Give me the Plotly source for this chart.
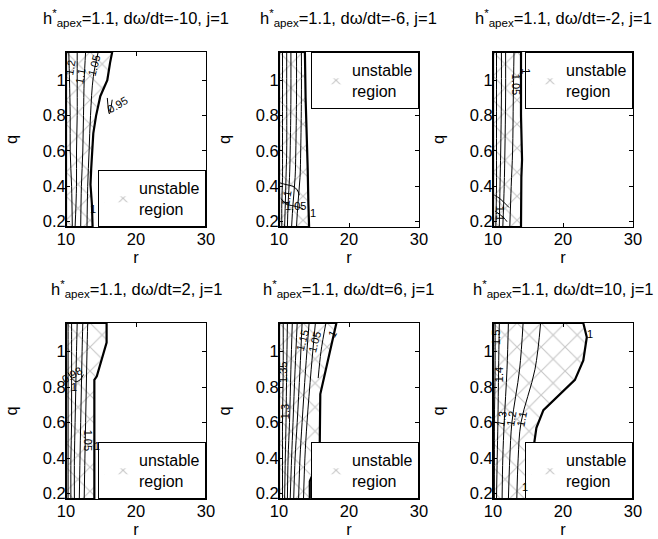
import plotly.graph_objects as go

W, H = 658, 539
R_TICKS = [10, 20, 30]
R_TICK_LABELS = ["10", "20", "30"]
Q_TICKS = [0.2, 0.4, 0.6, 0.8, 1.0]
Q_TICK_LABELS = ["0.2", "0.4", "0.6", "0.8", "1"]
R_RANGE = [10, 30]
Q_RANGE = [0.17, 1.16]

RATES = [-10, -6, -2, 2, 6, 10]
H_APEX = 1.1
J_VAL = 1

# ---- unstable-region boundary (level-1 contour), top -> bottom ----
BOUND_Q_M10 = [1.16, 1.10, 1.00, 0.91, 0.80, 0.70, 0.60, 0.50, 0.41, 0.30, 0.17]
BOUND_R_M10 = [16.6, 16.3, 15.9, 14.9, 14.3, 13.9, 13.7, 13.6, 13.5, 13.7, 13.8]
BOUND_Q_M6 = [1.16, 0.90, 0.70, 0.50, 0.30, 0.17]
BOUND_R_M6 = [13.7, 13.8, 14.0, 14.1, 14.2, 14.3]
BOUND_Q_M2 = [1.16, 0.80, 0.62, 0.55, 0.45, 0.30, 0.17]
BOUND_R_M2 = [14.0, 14.0, 14.05, 14.15, 14.05, 14.0, 14.0]
BOUND_Q_P2 = [1.16, 1.05, 0.86, 0.84, 0.60, 0.40, 0.17]
BOUND_R_P2 = [15.8, 15.8, 14.4, 14.05, 14.05, 14.05, 14.05]
BOUND_Q_P6 = [1.16, 0.76, 0.40, 0.27, 0.17]
BOUND_R_P6 = [18.2, 15.9, 15.8, 14.4, 14.4]
BOUND_Q_P10 = [1.16, 1.08, 0.95, 0.84, 0.74, 0.67, 0.57, 0.46, 0.30, 0.17]
BOUND_R_P10 = [22.9, 23.4, 22.9, 21.7, 19.1, 17.2, 16.2, 15.8, 15.4, 15.1]

# ---- inner contour lines: (q list, r list) ----
CONT_M10 = [
    ([1.16, 1.0, 0.8, 0.6, 0.4, 0.17], [10.4, 10.5, 10.6, 10.6, 10.8, 10.9]),
    ([1.16, 1.0, 0.8, 0.6, 0.4, 0.17], [11.6, 11.6, 11.6, 11.5, 11.5, 11.3]),
    ([1.16, 1.0, 0.8, 0.6, 0.4, 0.17], [12.8, 12.6, 12.5, 12.4, 12.2, 12.1]),
    ([1.16, 1.02, 0.8, 0.6, 0.4, 0.17], [14.6, 13.9, 13.5, 13.3, 13.1, 13.0]),
    ([0.90, 0.81, 0.89], [15.9, 16.2, 16.6]),
]
CONT_M6 = [
    ([1.16, 0.9, 0.6, 0.45, 0.3, 0.17], [10.5, 10.5, 10.5, 10.5, 10.4, 10.4]),
    ([1.16, 0.9, 0.6, 0.45, 0.3, 0.17], [11.1, 11.1, 11.1, 11.0, 10.9, 10.8]),
    ([1.16, 0.9, 0.6, 0.45, 0.3, 0.17], [11.7, 11.7, 11.6, 11.5, 11.3, 11.2]),
    ([1.16, 0.9, 0.6, 0.45, 0.3, 0.17], [12.5, 12.5, 12.4, 12.3, 12.0, 11.8]),
    ([1.16, 0.9, 0.6, 0.45, 0.3, 0.17], [13.2, 13.2, 13.1, 13.0, 12.7, 12.5]),
    ([0.42, 0.41, 0.40, 0.38, 0.35], [10.1, 11.0, 12.0, 12.6, 12.9]),
    ([0.33, 0.30, 0.29, 0.28, 0.27], [10.3, 11.0, 12.0, 13.0, 13.5]),
]
CONT_M2 = [
    ([1.16, 0.9, 0.6, 0.4, 0.17], [10.5, 10.5, 10.5, 10.5, 10.4]),
    ([1.16, 0.9, 0.6, 0.4, 0.17], [11.2, 11.2, 11.1, 11.0, 10.9]),
    ([1.16, 0.9, 0.6, 0.4, 0.17], [11.8, 11.8, 11.7, 11.6, 11.4]),
    ([1.16, 0.9, 0.6, 0.4, 0.17], [13.0, 12.9, 12.8, 12.6, 12.4]),
    ([0.35, 0.33, 0.30, 0.28], [10.2, 11.0, 11.8, 12.3]),
    ([0.26, 0.24, 0.22, 0.20], [10.3, 11.0, 11.6, 12.0]),
]
CONT_P2 = [
    ([1.16, 1.0, 0.8, 0.6, 0.4, 0.17], [10.3, 10.3, 10.3, 10.3, 10.3, 10.3]),
    ([1.16, 1.0, 0.8, 0.6, 0.4, 0.17], [10.8, 10.8, 10.8, 10.8, 10.7, 10.7]),
    ([1.16, 1.0, 0.8, 0.6, 0.4, 0.17], [11.6, 11.5, 11.4, 11.3, 11.2, 11.2]),
    ([1.16, 1.0, 0.8, 0.6, 0.4, 0.17], [12.4, 12.3, 12.2, 12.1, 12.0, 11.9]),
    ([1.16, 1.0, 0.8, 0.6, 0.4, 0.17], [13.1, 13.0, 12.9, 12.8, 12.7, 12.6]),
    ([0.88, 0.85, 0.83, 0.84, 0.87], [10.3, 10.8, 11.4, 12.0, 12.5]),
]
CONT_P6 = [
    ([1.16, 0.9, 0.6, 0.4, 0.17], [10.6, 10.6, 10.5, 10.5, 10.5]),
    ([1.16, 0.9, 0.6, 0.4, 0.17], [11.2, 11.1, 11.0, 10.9, 10.8]),
    ([1.16, 0.9, 0.6, 0.4, 0.17], [11.9, 11.7, 11.5, 11.3, 11.2]),
    ([1.16, 0.9, 0.6, 0.4, 0.17], [12.6, 12.3, 12.0, 11.8, 11.6]),
    ([1.16, 0.9, 0.6, 0.4, 0.17], [13.3, 13.0, 12.6, 12.3, 12.1]),
    ([1.16, 0.9, 0.6, 0.4, 0.17], [14.3, 13.8, 13.3, 13.0, 12.8]),
    ([1.16, 0.9, 0.6, 0.4, 0.17], [15.2, 14.6, 14.0, 13.7, 13.5]),
    ([1.16, 1.0, 0.85], [16.7, 16.0, 15.6]),
]
CONT_P10 = [
    ([1.16, 0.9, 0.6, 0.4, 0.17], [10.3, 10.3, 10.2, 10.2, 10.2]),
    ([1.16, 0.9, 0.6, 0.4, 0.17], [10.9, 10.8, 10.7, 10.6, 10.5]),
    ([1.16, 0.9, 0.6, 0.4, 0.17], [12.2, 12.0, 11.6, 11.4, 11.3]),
    ([1.16, 0.9, 0.6, 0.4, 0.17], [14.3, 13.8, 12.7, 12.4, 12.2]),
    ([1.16, 0.9, 0.6, 0.4, 0.17], [16.8, 16.0, 14.0, 13.6, 13.4]),
]

# ---- contour labels: (text, r, q, angle) ----
LAB_M10 = [("1.2", 10.6, 1.07, -80), ("1.1", 12.0, 1.02, -80), ("1.05", 14.0, 1.08, -75),
           ("1", 13.9, 0.27, 0), ("0.95", 17.3, 0.86, -30)]
LAB_M6 = [("1.1", 11.0, 0.33, -80), ("1.05", 12.4, 0.29, 0), ("1", 14.8, 0.25, 0)]
LAB_M2 = [("1.05", 13.3, 0.98, 90), ("1", 14.6, 1.05, 90), ("1.1", 11.0, 0.25, 90)]
LAB_P2 = [("0.98", 10.8, 0.87, -30), ("1", 11.2, 0.80, 0), ("1.05", 13.1, 0.50, 90),
          ("1", 14.4, 0.47, 0)]
LAB_P6 = [("1.15", 13.3, 1.06, -75), ("1.05", 15.0, 1.05, -75), ("1", 17.6, 1.10, -60),
          ("1.35", 10.6, 0.88, -90), ("1.3", 10.9, 0.66, -90)]
LAB_P10 = [("1.5", 10.4, 1.08, -90), ("1.4", 10.8, 0.87, -90), ("1.3", 11.2, 0.62, -80),
           ("1.2", 12.6, 0.62, -80), ("1.1", 14.1, 0.62, -80), ("1", 23.8, 1.10, 0),
           ("1", 14.6, 0.24, 0)]

PANELS = [
    (BOUND_Q_M10, BOUND_R_M10, CONT_M10, LAB_M10, "br"),
    (BOUND_Q_M6, BOUND_R_M6, CONT_M6, LAB_M6, "tr"),
    (BOUND_Q_M2, BOUND_R_M2, CONT_M2, LAB_M2, "tr"),
    (BOUND_Q_P2, BOUND_R_P2, CONT_P2, LAB_P2, "br"),
    (BOUND_Q_P6, BOUND_R_P6, CONT_P6, LAB_P6, "br"),
    (BOUND_Q_P10, BOUND_R_P10, CONT_P10, LAB_P10, "br"),
]

# layout in page pixels
COL_X = [(66, 206), (279, 419), (493, 633)]
ROW_Y = [(52, 227), (323, 499)]
FONT = "Liberation Sans, Arial, Helvetica, sans-serif"
HATCH = "#8f8f8f"
FS = 16.5

fig = go.Figure()
layout = dict(
    width=W, height=H, margin=dict(l=0, r=0, t=0, b=0, autoexpand=False),
    paper_bgcolor="white", plot_bgcolor="white",
    font=dict(family=FONT, size=FS, color="black"),
    showlegend=True, annotations=[],
)

for i, (bq, br, conts, labs, legpos) in enumerate(PANELS):
    row, col = divmod(i, 3)
    x0, x1 = COL_X[col]
    y0, y1 = ROW_Y[row]
    n = "" if i == 0 else str(i + 1)
    xa, ya = "x" + n, "y" + n
    lg = "legend" + n

    poly_r = [R_RANGE[0]] + br + [R_RANGE[0], R_RANGE[0]]
    poly_q = [bq[0]] + bq + [bq[-1], bq[0]]
    fig.add_trace(go.Scatter(
        x=poly_r, y=poly_q, mode="lines", fill="toself", fillcolor="white",
        fillpattern=dict(shape="x", fgcolor=HATCH, bgcolor="white", size=17, solidity=0.13),
        line=dict(width=0, color=HATCH), name="unstable<br>region",
        xaxis=xa, yaxis=ya, legend=lg, hoverinfo="skip"))
    fig.add_trace(go.Scatter(
        x=poly_r, y=poly_q, mode="lines", line=dict(color="black", width=2.2),
        xaxis=xa, yaxis=ya, showlegend=False, hoverinfo="skip"))
    for cq, cr in conts:
        fig.add_trace(go.Scatter(
            x=cr, y=cq, mode="lines", line=dict(color="black", width=1, shape="spline"),
            xaxis=xa, yaxis=ya, showlegend=False, hoverinfo="skip"))
    for txt, lr, lq, ang in labs:
        layout["annotations"].append(dict(
            x=lr, y=lq, xref=xa, yref=ya, text=txt, showarrow=False,
            textangle=ang, font=dict(size=11, color="#000000")))

    axis_common = dict(showline=True, linecolor="black", linewidth=1, mirror="ticks",
                       ticks="inside", ticklen=4, tickcolor="black", showgrid=False,
                       zeroline=False, tickfont=dict(size=FS), automargin=False)
    layout["xaxis" + n] = dict(
        domain=[x0 / W, x1 / W], range=R_RANGE, anchor=ya,
        tickvals=R_TICKS, ticktext=R_TICK_LABELS, ticklabelstandoff=-3,
        title=dict(text="r", standoff=2, font=dict(size=FS)), **axis_common)
    layout["yaxis" + n] = dict(
        domain=[1 - y1 / H, 1 - y0 / H], range=Q_RANGE, anchor=xa,
        tickvals=Q_TICKS, ticktext=Q_TICK_LABELS, ticklabelstandoff=-4,
        title=dict(text="q", standoff=20, font=dict(size=FS)), **axis_common)

    if legpos == "br":
        leg = dict(x=x1 / W, y=1 - y1 / H, xanchor="right", yanchor="bottom")
    else:
        leg = dict(x=x1 / W, y=1 - y0 / H, xanchor="right", yanchor="top")
    layout[lg] = dict(bgcolor="white", bordercolor="black", borderwidth=1,
                      font=dict(size=16), itemwidth=30, tracegroupgap=0, **leg)

    layout["annotations"].append(dict(
        x=(x0 + x1) / 2 / W, y=1 - (y0 - 34) / H, xref="paper", yref="paper",
        text=f"h<sup>*</sup><sub>apex</sub>=1.1, dω/dt={RATES[i]}, j={J_VAL}",
        showarrow=False, xanchor="center", yanchor="middle", font=dict(size=FS)))

fig.update_layout(**layout)
fig.write_html(
    "out.html",
    config={"displayModeBar": False},
    post_script="document.body.style.margin='0';document.body.style.overflow='hidden';",
)
